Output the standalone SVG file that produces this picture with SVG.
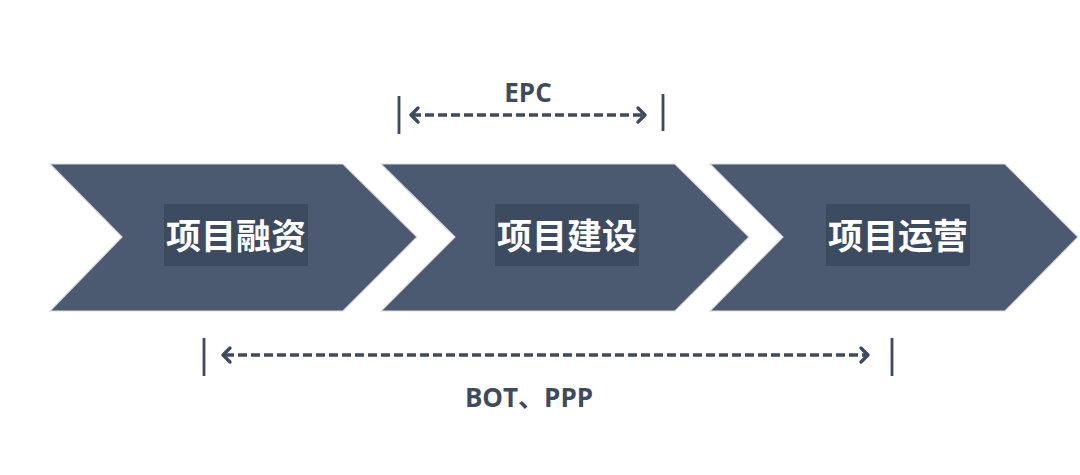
<svg xmlns="http://www.w3.org/2000/svg" width="1080" height="475" viewBox="0 0 1080 475">
<defs>
<style>
.chev{fill:#4b5a71;stroke:#d9dce1;stroke-width:1.2}
.lblbg{fill:#3d4b61}
.lbl{font-family:"Noto Sans CJK SC","Noto Sans",sans-serif;font-weight:bold;font-size:35px;fill:#ffffff;text-anchor:middle}
.cap{font-family:"Open Sans","Noto Sans","Noto Sans CJK SC",sans-serif;font-weight:bold;font-size:26px;fill:#3e4b5f;text-anchor:middle}
.bar{stroke:#3e4b5f;stroke-width:2.8;fill:none}
.dash{stroke:#3e4b5f;stroke-width:3.4;stroke-dasharray:9 4;fill:none}
.head{stroke:#3e4b5f;stroke-width:3.4;fill:none;stroke-linecap:round;stroke-linejoin:round}
</style>
</defs>
<rect width="1080" height="475" fill="#ffffff"/>
<g id="node-financing">
<polygon class="chev" points="50,164 343,164 417,237 343,311 50,311 122,237"/>
<rect class="lblbg" x="164" y="204" width="144" height="62"/>
<text class="lbl" x="236" y="249">项目融资</text>
</g>
<g id="node-construction">
<polygon class="chev" points="381,164 675,164 749,237 675,311 381,311 455,237"/>
<rect class="lblbg" x="495" y="204" width="144" height="62"/>
<text class="lbl" x="567" y="249">项目建设</text>
</g>
<g id="node-operation">
<polygon class="chev" points="710,164 1005,164 1078,237 1005,311 710,311 783,237"/>
<rect class="lblbg" x="826" y="204" width="144" height="62"/>
<text class="lbl" x="898" y="249">项目运营</text>
</g>
<g id="connectors">
<line class="bar" x1="399" y1="96" x2="399" y2="134"/>
<line class="bar" x1="663" y1="94" x2="663" y2="131"/>
<line class="dash" x1="412" y1="115" x2="644" y2="115"/>
<polyline class="head" points="418,108 411,115 418,122"/>
<polyline class="head" points="638,108 645,115 638,122"/>
<text class="cap" x="528" y="102">EPC</text>
<line class="bar" x1="204" y1="338" x2="204" y2="376"/>
<line class="bar" x1="892" y1="338" x2="892" y2="376"/>
<line class="dash" x1="225" y1="355" x2="867" y2="355"/>
<polyline class="head" points="230,348 223,355 230,362"/>
<polyline class="head" points="861,348 868,355 861,362"/>
<text class="cap" x="529" y="407">BOT、PPP</text>
</g>
</svg>
